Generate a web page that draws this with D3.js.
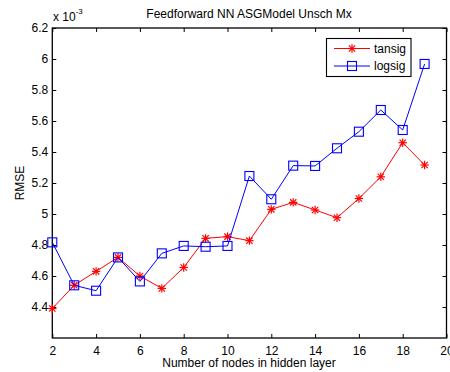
<!DOCTYPE html>
<html>
<head>
<meta charset="utf-8">
<script src="https://cdn.jsdelivr.net/npm/d3@7"></script>
<style>
  body { margin: 0; background: #fff; }
  svg { display: block; font-family: "Liberation Sans", Arial, sans-serif; }
</style>
</head>
<body>
<svg id="chart" width="450" height="372"></svg>
<script>
// Hidden-layer sizes and RMSE (x 10^-3) for each transfer function
const nodes = [2, 3, 4, 5, 6, 7, 8, 9, 10, 11, 12, 13, 14, 15, 16, 17, 18, 19];
const tansig = [4.39, 4.54, 4.63, 4.72, 4.60, 4.52, 4.655, 4.843, 4.854, 4.828, 5.03, 5.075, 5.026, 4.976, 5.10, 5.24, 5.46, 5.316];
const logsig = [4.817, 4.54, 4.505, 4.72, 4.565, 4.746, 4.794, 4.789, 4.794, 5.245, 5.095, 5.312, 5.31, 5.424, 5.531, 5.671, 5.542, 5.968];
const xTicks = [2, 4, 6, 8, 10, 12, 14, 16, 18, 20];
const yTicks = [4.4, 4.6, 4.8, 5.0, 5.2, 5.4, 5.6, 5.8, 6.0, 6.2];
const seriesNames = ["tansig", "logsig"];

const svg = d3.select("#chart");
const m = { left: 52.3, right: 446.5, top: 28, bottom: 338 };
const fs = "12px";

const x = d3.scaleLinear().domain([2, 20]).range([m.left, m.right]);
const y = d3.scaleLinear().domain([4.2, 6.2]).range([m.bottom, m.top]);

const fmtY = d => (Math.round(d * 10) / 10).toString();

// Axes with inward ticks on all four sides (boxed plot)
const tickLen = 4;
const gx = svg.append("g").attr("transform", `translate(0,${m.bottom})`)
  .call(d3.axisBottom(x).tickValues(xTicks).tickSizeInner(-tickLen).tickSizeOuter(0).tickPadding(8));
const gxTop = svg.append("g").attr("transform", `translate(0,${m.top})`)
  .call(d3.axisTop(x).tickValues(xTicks).tickSizeInner(-tickLen).tickSizeOuter(0).tickFormat(""));
const gy = svg.append("g").attr("transform", `translate(${m.left},0)`)
  .call(d3.axisLeft(y).tickValues(yTicks).tickSizeInner(-tickLen).tickSizeOuter(0).tickPadding(4).tickFormat(fmtY));
const gyR = svg.append("g").attr("transform", `translate(${m.right},0)`)
  .call(d3.axisRight(y).tickValues(yTicks).tickSizeInner(-tickLen).tickSizeOuter(0).tickFormat(""));

[gx, gxTop, gy, gyR].forEach(g => {
  g.select(".domain").remove();
  g.selectAll("line").attr("stroke", "#000").attr("stroke-width", 1);
  g.selectAll("text").attr("fill", "#000").style("font-size", fs).style("font-family", "Liberation Sans, Arial, sans-serif");
});

// Plot frame
svg.append("rect")
  .attr("x", m.left).attr("y", m.top)
  .attr("width", m.right - m.left).attr("height", m.bottom - m.top)
  .attr("fill", "none").attr("stroke", "#000").attr("stroke-width", 1.3);

// Title, axis labels, exponent
svg.append("text").attr("x", 249).attr("y", 18)
  .attr("text-anchor", "middle").style("font-size", fs).text("Feedforward NN ASGModel Unsch Mx");
svg.append("text").attr("x", 249).attr("y", 367)
  .attr("text-anchor", "middle").style("font-size", fs).text("Number of nodes in hidden layer");
svg.append("text").attr("transform", `translate(24,${(m.top + m.bottom) / 2}) rotate(-90)`)
  .attr("text-anchor", "middle").style("font-size", fs).text("RMSE");
const ex = svg.append("text").attr("x", 53).attr("y", 21).style("font-size", fs);
ex.append("tspan").text("x 10");
ex.append("tspan").attr("dy", -7).style("font-size", "8px").text("-3");

// Marker shapes
function star(g, cx, cy, color) {
  const r = 4.2;
  const s = g.append("g").attr("transform", `translate(${cx},${cy})`)
    .attr("stroke", color).attr("stroke-width", 1.2);
  s.append("line").attr("x1", -r).attr("x2", r).attr("y1", 0).attr("y2", 0);
  s.append("line").attr("x1", 0).attr("x2", 0).attr("y1", -r).attr("y2", r);
  s.append("line").attr("x1", -r * 0.75).attr("x2", r * 0.75).attr("y1", -r * 0.75).attr("y2", r * 0.75);
  s.append("line").attr("x1", -r * 0.75).attr("x2", r * 0.75).attr("y1", r * 0.75).attr("y2", -r * 0.75);
}
function square(g, cx, cy, color) {
  const h = 4.5;
  g.append("rect").attr("x", cx - h).attr("y", cy - h).attr("width", 2 * h).attr("height", 2 * h)
    .attr("fill", "none").attr("stroke", color).attr("stroke-width", 1.1);
}

const line = d3.line().x(d => x(d[0])).y(d => y(d[1]));
const series = [
  { name: seriesNames[0], values: tansig, color: "#ff0000", marker: star },
  { name: seriesNames[1], values: logsig, color: "#0000ff", marker: square }
];

const plot = svg.append("g");
series.forEach(s => {
  const pts = nodes.map((n, i) => [n, s.values[i]]);
  plot.append("path").datum(pts).attr("d", line)
    .attr("fill", "none").attr("stroke", s.color).attr("stroke-width", 1);
  const mg = plot.append("g");
  pts.forEach(p => s.marker(mg, x(p[0]), y(p[1]), s.color));
});

// Legend
const lg = svg.append("g");
lg.append("rect").attr("x", 326.5).attr("y", 38.5).attr("width", 84.5).attr("height", 38)
  .attr("fill", "#fff").attr("stroke", "#000").attr("stroke-width", 1.1);
series.forEach((s, i) => {
  const ly = 48.5 + i * 17.5;
  lg.append("line").attr("x1", 334).attr("x2", 370).attr("y1", ly).attr("y2", ly)
    .attr("stroke", s.color).attr("stroke-width", 1);
  s.marker(lg, 352, ly, s.color);
  lg.append("text").attr("x", 374).attr("y", ly + 4).style("font-size", fs).text(s.name);
});
</script>
</body>
</html>
